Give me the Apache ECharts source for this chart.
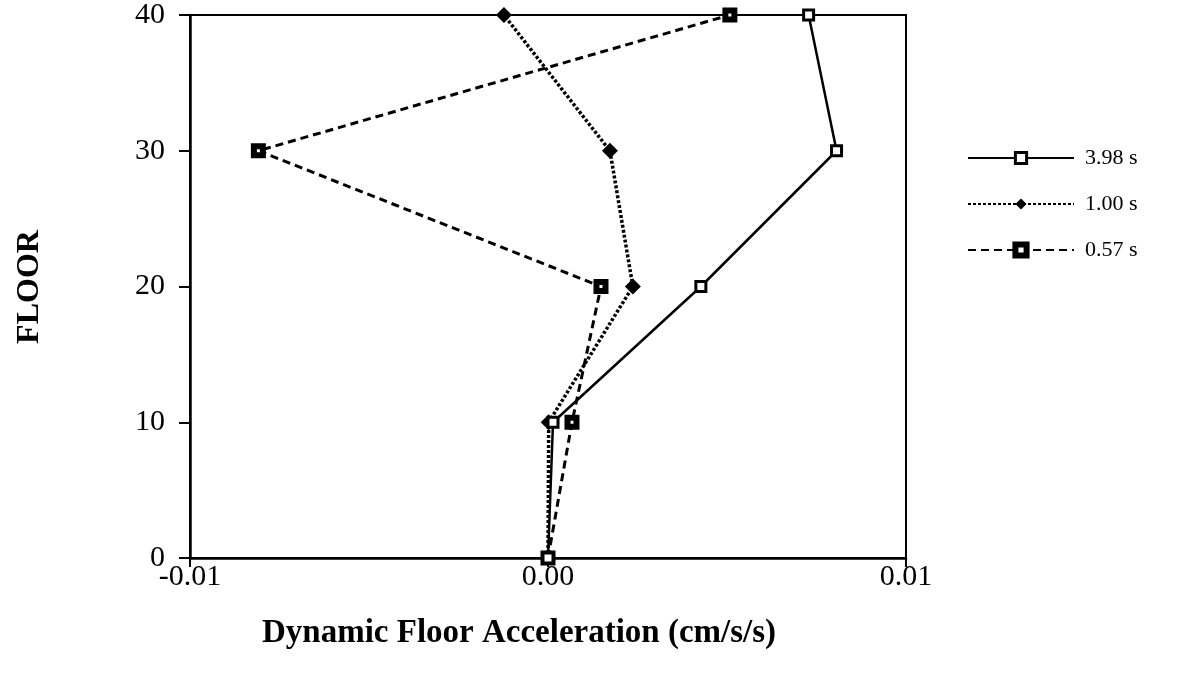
<!DOCTYPE html>
<html>
<head>
<meta charset="utf-8">
<script src="https://cdn.jsdelivr.net/npm/echarts@6/dist/echarts.min.js"></script>
<style>html,body{margin:0;padding:0;background:#fff}#c{width:1184px;height:679px}</style>
</head>
<body>
<div id="c"></div>
<script>
const floors = [0, 10, 20, 30, 40];
const s398 = [0, 0.00014, 0.00427, 0.00806, 0.00728];
const s100 = [0, 0.00002, 0.00237, 0.00173, -0.00123];
const s057 = [0, 0.00067, 0.00148, -0.00809, 0.00508];
const seriesNames = ['3.98 s', '1.00 s', '0.57 s'];
const xTicks = [-0.01, 0, 0.01];
const yTicks = [0, 10, 20, 30, 40];

const font = 'Liberation Serif, Times New Roman, serif';
const pairs = arr => arr.map((v, i) => [v, floors[i]]);

const chart = echarts.init(document.getElementById('c'));
chart.setOption({
  animation: false,
  backgroundColor: '#fff',
  grid: { left: 190, right: 278, top: 15, bottom: 121, show: true, borderColor: '#000', borderWidth: 2 },
  xAxis: {
    type: 'value', min: xTicks[0], max: xTicks[xTicks.length - 1], interval: 0.01,
    axisLine: { show: true, onZero: false, lineStyle: { color: '#000', width: 2.5 } },
    axisTick: { show: true, length: 9, lineStyle: { color: '#000', width: 2 } },
    splitLine: { show: false },
    axisLabel: { color: '#000', fontFamily: font, fontSize: 30, margin: 4, formatter: v => v.toFixed(2) }
  },
  yAxis: {
    type: 'value', min: yTicks[0], max: yTicks[yTicks.length - 1], interval: 10,
    axisLine: { show: true, onZero: false, lineStyle: { color: '#000', width: 2.5 } },
    axisTick: { show: true, length: 11, lineStyle: { color: '#000', width: 2 } },
    splitLine: { show: false },
    axisLabel: { color: '#000', fontFamily: font, fontSize: 30, margin: 25 }
  },
  legend: {
    orient: 'vertical', left: 962, top: 142, itemWidth: 106, itemHeight: 14, itemGap: 24,
    textStyle: { color: '#000', fontFamily: font, fontSize: 22, padding: [0, 0, 0, 6] },
    data: [
      { name: seriesNames[0], itemStyle: { color: '#fff', borderColor: '#000', borderWidth: 3 } },
      { name: seriesNames[1], itemStyle: { color: '#000', borderColor: '#000', borderWidth: 0 } },
      { name: seriesNames[2], itemStyle: { color: '#fff', borderColor: '#000', borderWidth: 6 } }
    ]
  },
  graphic: [
    { type: 'text', left: 262, top: 617, style: { text: 'Dynamic Floor Acceleration (cm/s/s)', font: 'bold 33px ' + font, fill: '#000' } },
    { type: 'text', x: 30, y: 287, rotation: Math.PI / 2, style: { text: 'FLOOR', font: 'bold 32px ' + font, fill: '#000', align: 'center', verticalAlign: 'middle' } }
  ],
  series: [
    {
      name: seriesNames[0], type: 'line', data: pairs(s398), z: 5,
      symbol: 'rect', symbolSize: 10,
      lineStyle: { color: '#000', width: 2.5, type: 'solid' },
      itemStyle: { color: '#fff', borderColor: '#000', borderWidth: 3 }
    },
    {
      name: seriesNames[1], type: 'line', data: pairs(s100), z: 3,
      symbol: 'diamond', symbolSize: 16,
      lineStyle: { color: '#000', width: 3.5, type: [3, 2] },
      itemStyle: { color: '#000', borderColor: '#000', borderWidth: 0 }
    },
    {
      name: seriesNames[2], type: 'line', data: pairs(s057), z: 4,
      symbol: 'rect', symbolSize: 9,
      lineStyle: { color: '#000', width: 3, type: [8, 5] },
      itemStyle: { color: '#fff', borderColor: '#000', borderWidth: 6 }
    }
  ]
});
</script>
</body>
</html>
